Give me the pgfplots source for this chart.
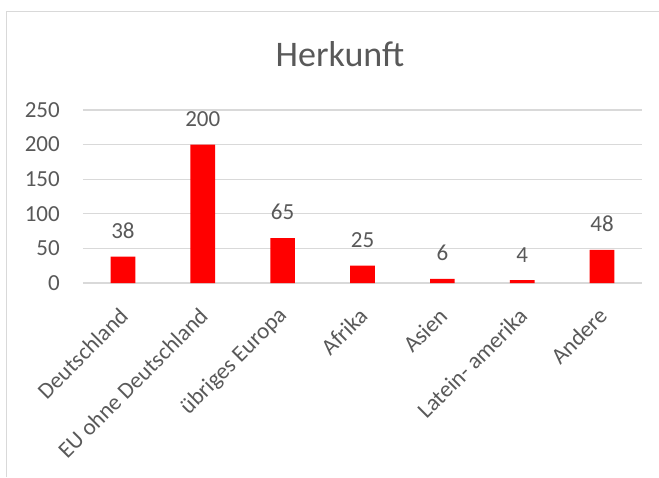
\documentclass[border=0pt]{standalone}
\usepackage{pgfplots}
\pgfplotsset{compat=1.18}
\usepackage{fontspec}
\setmainfont{Carlito}
\definecolor{txt}{HTML}{595959}
\definecolor{grd}{HTML}{D9D9D9}
\begin{document}
\begin{tikzpicture}[x=1pt,y=1pt]
\path[use as bounding box] (0,0) rectangle (659,477);
\draw[grd, line width=1.2pt] (6.7,0) -- (6.7,465.3) -- (659,465.3);
\node[anchor=base, text=txt, font=\fontsize{36}{43}\selectfont, inner sep=0pt] at (340,410.3) {Herkunft};
\begin{axis}[
  at={(83pt,194pt)}, anchor=south west,
  scale only axis, width=559pt, height=173pt,
  ybar, bar width=24.7pt,
  xmin=-0.5, xmax=6.5, ymin=0, ymax=250,
  ytick={0,50,100,150,200,250},
  xtick={0,1,2,3,4,5,6},
  xticklabels={Deutschland, EU ohne Deutschland, übriges Europa, Afrika, Asien, Latein- amerika, Andere},
  major tick length=0pt,
  axis line style={draw=none},
  ymajorgrids, grid style={grd, line width=1.1pt},
  /pgf/number format/assume math mode=true,
  tick label style={text=txt, font=\fontsize{23}{27.6}\selectfont},
  yticklabel style={anchor=east, inner sep=0pt, xshift=-23pt},
  xticklabel style={inner sep=0pt, xshift=1pt, yshift=-29pt, rotate=45, anchor=east},
  nodes near coords,
  every node near coord/.append style={text=txt, font=\fontsize{23}{27.6}\selectfont, anchor=south, inner sep=0pt, yshift=18pt},
  clip=false,
]
\addplot[fill=red, draw=none] coordinates {(0,38) (1,200) (2,65) (3,25) (4,6) (5,4) (6,48)};
\end{axis}
\end{tikzpicture}
\end{document}
